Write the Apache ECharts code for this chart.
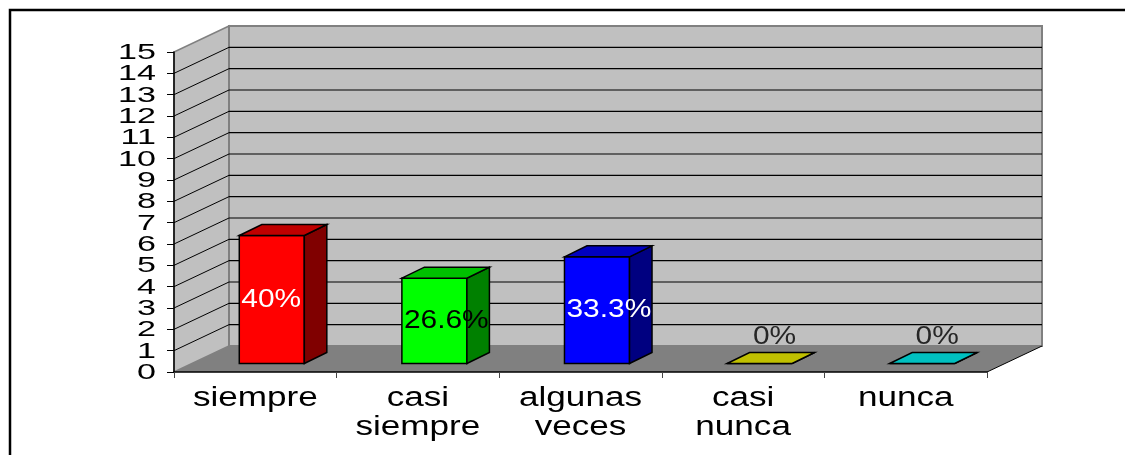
<!DOCTYPE html>
<html>
<head>
<meta charset="utf-8">
<script src="https://cdn.jsdelivr.net/npm/echarts@6/dist/echarts.min.js"></script>
<style>
html, body { margin: 0; padding: 0; background: #fff; }
#chart { width: 1125px; height: 455px; }
</style>
</head>
<body>
<div id="chart"></div>
<script>
// data
var categories = ['siempre', 'casi\nsiempre', 'algunas\nveces', 'casi\nnunca', 'nunca'];
var values = [6, 4, 5, 0, 0];
var pctLabels = ['40%', '26.6%', '33.3%', '0%', '0%'];
var yTicks = [0, 1, 2, 3, 4, 5, 6, 7, 8, 9, 10, 11, 12, 13, 14, 15];

// colours: front, side, top, label
var barColors = [
    ['#ff0000', '#800000', '#c00000', '#ffffff'],
    ['#00ff00', '#008000', '#00c000', '#000000'],
    ['#0000ff', '#000080', '#0000c0', '#ffffff'],
    ['#ffff00', '#808000', '#c0c000', '#262626'],
    ['#00ffff', '#008080', '#00c0c0', '#262626']
];

var FONT = '"Liberation Sans", Arial, sans-serif';
var WALL_DX = 55, WALL_DY = -26;   // depth of the 3d box
var BAR_DX = 22.5, BAR_DY = -11;   // depth of a bar
var BAR_OX = 16.5, BAR_OY = -8.5;  // bar front plane shift

var chart = echarts.init(document.getElementById('chart'), null, { renderer: 'canvas' });

function renderWalls(params, api) {
    var cs = params.coordSys;
    var x0 = cs.x, x1 = cs.x + cs.width, yt = cs.y, yb = cs.y + cs.height;
    return {
        type: 'group',
        children: [{
            type: 'polygon',
            shape: { points: [[x0, yb], [x0, yt], [x0 + WALL_DX, yt + WALL_DY], [x0 + WALL_DX, yb + WALL_DY]] },
            style: { fill: '#c0c0c0', stroke: '#808080', lineWidth: 1.5 }
        }, {
            type: 'rect',
            shape: { x: x0 + WALL_DX, y: yt + WALL_DY, width: cs.width, height: cs.height },
            style: { fill: '#c0c0c0', stroke: '#808080', lineWidth: 2 }
        }, {
            type: 'polygon',
            shape: { points: [[x0, yb], [x1, yb], [x1 + WALL_DX, yb + WALL_DY], [x0 + WALL_DX, yb + WALL_DY]] },
            style: { fill: '#808080' }
        }, {
            type: 'line',
            shape: { x1: x1, y1: yb, x2: x1 + WALL_DX, y2: yb + WALL_DY },
            style: { stroke: '#000', lineWidth: 1 }
        }]
    };
}

function renderGrid(params, api) {
    var cs = params.coordSys;
    var v = api.value(1);
    var y = api.coord([0, v])[1];
    var x0 = cs.x, x1 = cs.x + cs.width;
    var children = [];
    if (v > 0 && v < 15) {
        children.push({
            type: 'line',
            shape: { x1: x0 + WALL_DX, y1: y + WALL_DY, x2: x1 + WALL_DX, y2: y + WALL_DY },
            style: { stroke: '#000', lineWidth: 1.2 }
        });
        children.push({
            type: 'line',
            shape: { x1: x0, y1: y, x2: x0 + WALL_DX, y2: y + WALL_DY },
            style: { stroke: '#000', lineWidth: 1 }
        });
    }
    children.push({
        type: 'text',
        x: x0 - 18,
        y: y + 1,
        scaleX: 1.55,
        style: {
            text: String(v),
            font: '22px ' + FONT,
            fill: '#000',
            align: 'right',
            verticalAlign: 'middle'
        }
    });
    return { type: 'group', children: children };
}

function renderBar(params, api) {
    var i = api.value(0), v = api.value(1);
    var base = api.coord([i, 0]);
    var tp = api.coord([i, v]);
    var bw = api.size([1, 0])[0] * 0.4;
    var cx = base[0] + BAR_OX;
    var L = cx - bw / 2, R = cx + bw / 2;
    var bot = base[1] + BAR_OY, top = tp[1] + BAR_OY;
    var c = barColors[i];
    var edge = { stroke: '#000', lineWidth: 1.5, lineJoin: 'miter' };
    var label;
    if (v > 0) {
        label = { type: 'text', x: L + 2, y: (top + bot) / 2, scaleX: 1.15,
            style: { text: pctLabels[i], font: '26px ' + FONT, fill: c[3], align: 'left', verticalAlign: 'middle' } };
    } else {
        label = { type: 'text', x: cx + 15, y: top - 27, scaleX: 1.15,
            style: { text: pctLabels[i], font: '26px ' + FONT, fill: c[3], align: 'center', verticalAlign: 'middle' } };
    }
    return {
        type: 'group',
        children: [{
            type: 'rect',
            shape: { x: L, y: top, width: bw, height: bot - top },
            style: Object.assign({ fill: c[0] }, edge)
        }, {
            type: 'polygon',
            shape: { points: [[R, top], [R + BAR_DX, top + BAR_DY], [R + BAR_DX, bot + BAR_DY], [R, bot]] },
            style: Object.assign({ fill: c[1] }, edge)
        }, {
            type: 'polygon',
            shape: { points: [[L, top], [L + BAR_DX, top + BAR_DY], [R + BAR_DX, top + BAR_DY], [R, top]] },
            style: Object.assign({ fill: c[2] }, edge)
        }, label]
    };
}

function renderCategory(params, api) {
    var i = api.value(0);
    var p = api.coord([i, 0]);
    return {
        type: 'text',
        x: p[0],
        y: p[1] + 12,
        scaleX: 1.3,
        style: {
            text: categories[i],
            font: '27px ' + FONT,
            fill: '#000',
            align: 'center',
            verticalAlign: 'top',
            lineHeight: 29
        }
    };
}

var option = {
    animation: false,
    backgroundColor: '#fff',
    graphic: [{
        type: 'polyline',
        shape: { points: [[10, 470], [10, 10], [1140, 10]] },
        style: { fill: null, stroke: '#000', lineWidth: 2.5 },
        z: 100
    }],
    grid: {
        left: 174,
        right: 138,
        top: 52,
        bottom: 83,
        containLabel: false,
        outerBoundsMode: 'none'
    },
    xAxis: {
        type: 'category',
        data: categories,
        boundaryGap: true,
        z: 10,
        axisLine: { show: true, lineStyle: { color: '#000', width: 1.5 } },
        axisTick: { show: true, length: 6, lineStyle: { color: '#444', width: 1 } },
        axisLabel: { show: false },
        splitLine: { show: false }
    },
    yAxis: {
        type: 'value',
        min: 0,
        max: 15,
        interval: 1,
        z: 10,
        axisLine: { show: true, lineStyle: { color: '#000', width: 1.5 } },
        axisTick: { show: true, length: 7, lineStyle: { color: '#000', width: 1 } },
        axisLabel: { show: false },
        splitLine: { show: false }
    },
    series: [{
        type: 'custom',
        renderItem: renderWalls,
        data: [[0, 0]],
        silent: true
    }, {
        type: 'custom',
        renderItem: renderGrid,
        data: yTicks.map(function (t) { return [0, t]; }),
        silent: true
    }, {
        type: 'custom',
        renderItem: renderCategory,
        data: categories.map(function (c, i) { return [i, 0]; }),
        silent: true
    }, {
        type: 'custom',
        renderItem: renderBar,
        data: values.map(function (v, i) { return [i, v]; })
    }]
};

chart.setOption(option);
</script>
</body>
</html>
